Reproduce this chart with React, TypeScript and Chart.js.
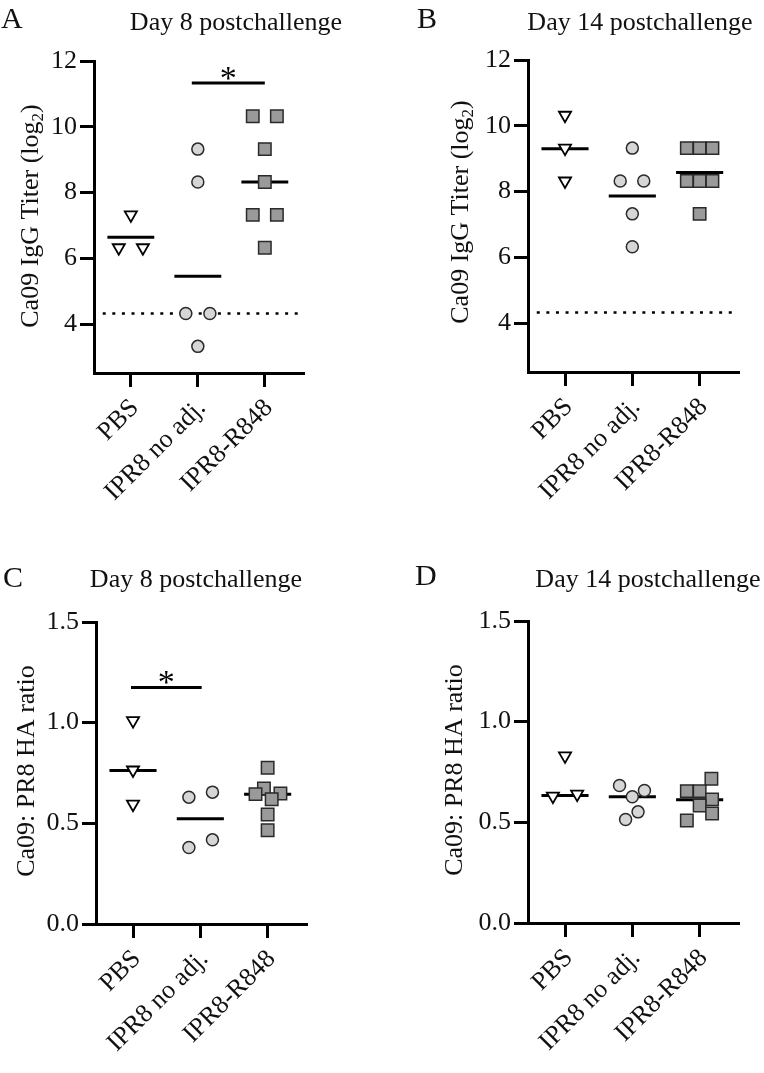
import React, { useEffect, useRef } from "react";
import { Chart, registerables } from "chart.js";

Chart.register(...registerables);

const FONT = "'Liberation Serif', 'Times New Roman', serif";

// ---------- shared ----------
const categories = ["PBS", "IPR8 no adj.", "IPR8-R848"];
const titerTicks = [4, 6, 8, 10, 12];
const ratioTicks = [0, 0.5, 1.0, 1.5];
const titerRange = [2.51, 12];
const ratioRange = [0, 1.5];
const xRange = [-0.55, 2.57];
const detectionLimit = 4.32;
const detectionSpan = [-0.42, 2.55];

// ---------- Panel A: Day 8, IgG titer ----------
const aPBS = [7.32, 6.32, 6.32];
const aNoAdj = [9.32, 8.32, 4.32, 4.32, 3.32];
const aR848 = [10.32, 10.32, 9.32, 8.32, 7.32, 7.32, 6.32];
const aMeans = [6.64, 5.45, 8.32];
const aSigSpan = [0.91, 2.0];
const aSigLevel = 11.33;
const aPBSJitter = [0, -0.18, 0.18];
const aNoAdjJitter = [0, 0, -0.18, 0.18, 0];
const aR848Jitter = [-0.18, 0.18, 0, 0, -0.18, 0.18, 0];

// ---------- Panel B: Day 14, IgG titer ----------
const bPBS = [10.32, 9.32, 8.32];
const bNoAdj = [9.32, 8.32, 8.32, 7.32, 6.32];
const bR848 = [9.32, 9.32, 9.32, 8.32, 8.32, 8.32, 7.32];
const bMeans = [9.3, 7.86, 8.58];
const bPBSJitter = [0, 0, 0];
const bNoAdjJitter = [0, -0.18, 0.17, 0, 0];
const bR848Jitter = [-0.19, 0, 0.19, -0.19, 0, 0.19, 0];

// ---------- Panel C: Day 8, HA ratio ----------
const cPBS = [1.01, 0.765, 0.595];
const cNoAdj = [0.63, 0.655, 0.38, 0.418];
const cR848 = [0.776, 0.673, 0.645, 0.648, 0.62, 0.544, 0.466];
const cMeans = [0.763, 0.523, 0.645];
const cSigSpan = [-0.03, 1.02];
const cSigLevel = 1.175;
const cPBSJitter = [0, 0, 0];
const cNoAdjJitter = [-0.17, 0.18, -0.17, 0.18];
const cR848Jitter = [0, -0.055, -0.18, 0.19, 0.06, 0, 0];

// ---------- Panel D: Day 14, HA ratio ----------
const dPBS = [0.83, 0.63, 0.64];
const dNoAdj = [0.683, 0.658, 0.627, 0.552, 0.514];
const dR848 = [0.716, 0.655, 0.655, 0.614, 0.584, 0.544, 0.509];
const dMeans = [0.633, 0.627, 0.612];
const dPBSJitter = [0, -0.18, 0.18];
const dNoAdjJitter = [-0.19, 0.18, 0, 0.085, -0.1];
const dR848Jitter = [0.175, -0.19, 0, 0.185, 0, 0.185, -0.19];

const Y_W = 70;
const X_H = 130;

type Spec = {
  letter: string;
  title: string;
  yLabel: string;
  ySub?: string;
  yTail?: string;
  yRange: number[];
  yTicks: number[];
  fmt: (v: number) => string;
  groups: number[][];
  jitters: number[][];
  means: number[];
  sigSpan?: number[];
  sigLevel?: number;
  detection?: number;
  pos: { x: number; y: number; w: number; h: number };
  area: { left: number; right: number; top: number; bottom: number };
  letterAt: number[];
  titleAt: number[];
  yLabelAt: number[];
};

const groupStyles = [
  { pointStyle: "triangle", rotation: 180, radius: 7, bg: "#ffffff", border: "#000000", bw: 1.8 },
  { pointStyle: "circle", rotation: 0, radius: 6, bg: "#d6d6d6", border: "#2a2a2a", bw: 1.5 },
  { pointStyle: "rect", rotation: 0, radius: 8.8, bg: "#9a9a9a", border: "#2a2a2a", bw: 1.5 },
];

function lineDs(span: number[], level: number, width: number) {
  return {
    data: [
      { x: span[0], y: level },
      { x: span[1], y: level },
    ],
    showLine: true,
    borderColor: "#000000",
    backgroundColor: "#000000",
    borderWidth: width,
    pointRadius: 0,
    order: 1,
    clip: false,
  } as any;
}

function makeTextPlugin(s: Spec) {
  return {
    id: "panelText" + s.letter,
    afterDraw(chart: any) {
      const ctx = chart.ctx as CanvasRenderingContext2D;
      ctx.save();
      ctx.fillStyle = "#111111";
      ctx.textBaseline = "alphabetic";
      // panel letter
      ctx.font = `30px ${FONT}`;
      ctx.textAlign = "left";
      ctx.fillText(s.letter, s.letterAt[0], s.letterAt[1]);
      // title
      ctx.font = `26px ${FONT}`;
      ctx.textAlign = "center";
      ctx.fillText(s.title, s.titleAt[0], s.titleAt[1]);
      // y label (rotated, with optional subscript)
      ctx.save();
      ctx.translate(s.yLabelAt[0], s.yLabelAt[1]);
      ctx.rotate(-Math.PI / 2);
      ctx.textAlign = "left";
      const mainFont = `26px ${FONT}`;
      const subFont = `17px ${FONT}`;
      ctx.font = mainFont;
      const w1 = ctx.measureText(s.yLabel).width;
      const w3 = s.yTail ? ctx.measureText(s.yTail).width : 0;
      ctx.font = subFont;
      const w2 = s.ySub ? ctx.measureText(s.ySub).width : 0;
      let x0 = -(w1 + w2 + w3) / 2;
      ctx.font = mainFont;
      ctx.fillText(s.yLabel, x0, 0);
      x0 += w1;
      if (s.ySub) {
        ctx.font = subFont;
        ctx.fillText(s.ySub, x0, 5);
        x0 += w2;
      }
      if (s.yTail) {
        ctx.font = mainFont;
        ctx.fillText(s.yTail, x0, 0);
      }
      ctx.restore();
      // significance star
      if (s.sigSpan && s.sigLevel != null) {
        const xs = chart.scales.x;
        const ys = chart.scales.y;
        const cx = xs.getPixelForValue((s.sigSpan[0] + s.sigSpan[1]) / 2);
        const cy = ys.getPixelForValue(s.sigLevel);
        ctx.font = `34px ${FONT}`;
        ctx.textAlign = "center";
        ctx.fillStyle = "#000000";
        ctx.fillText("*", cx, cy + 6);
      }
      ctx.restore();
    },
  };
}

function buildConfig(s: Spec): any {
  const datasets: any[] = [];
  s.groups.forEach((vals, gi) => {
    const st = groupStyles[gi];
    datasets.push({
      data: vals.map((v, i) => ({ x: gi + s.jitters[gi][i], y: v })),
      pointStyle: st.pointStyle,
      pointRotation: st.rotation,
      pointRadius: st.radius,
      pointBackgroundColor: st.bg,
      pointBorderColor: st.border,
      pointBorderWidth: st.bw,
      backgroundColor: st.bg,
      borderColor: st.border,
      showLine: false,
      order: 0,
      clip: false,
    });
  });
  s.means.forEach((m, gi) => datasets.push(lineDs([gi - 0.35, gi + 0.35], m, 3)));
  if (s.sigSpan && s.sigLevel != null) datasets.push(lineDs(s.sigSpan, s.sigLevel, 3));
  if (s.detection != null) {
    const d = lineDs(detectionSpan, s.detection, 2.5);
    d.borderDash = [3, 6.6];
    datasets.push(d);
  }
  const padding = {
    left: s.area.left - Y_W,
    right: s.pos.w - s.area.right,
    top: s.area.top,
    bottom: s.pos.h - s.area.bottom - X_H,
  };
  return {
    type: "scatter",
    data: { datasets },
    options: {
      responsive: false,
      animation: false,
      devicePixelRatio: 1,
      events: [],
      layout: { padding },
      plugins: { legend: { display: false }, tooltip: { enabled: false }, title: { display: false } },
      scales: {
        x: {
          type: "linear",
          min: xRange[0],
          max: xRange[1],
          afterBuildTicks: (scale: any) => {
            scale.ticks = categories.map((_, i) => ({ value: i }));
          },
          afterFit: (scale: any) => {
            scale.height = X_H;
          },
          ticks: {
            autoSkip: false,
            minRotation: 45,
            maxRotation: 45,
            padding: 6,
            labelOffset: 4,
            color: "#111111",
            font: { family: FONT, size: 26 },
            callback: (v: number) => categories[Math.round(v)] ?? "",
          },
          grid: {
            display: true,
            drawOnChartArea: false,
            drawTicks: true,
            tickLength: 14,
            tickWidth: 3,
            lineWidth: 3,
            tickColor: "#000000",
            color: "#000000",
          },
          border: { display: true, width: 3, color: "#000000" },
        },
        y: {
          type: "linear",
          min: s.yRange[0],
          max: s.yRange[1],
          afterBuildTicks: (scale: any) => {
            scale.ticks = s.yTicks.map((v) => ({ value: v }));
          },
          afterFit: (scale: any) => {
            scale.width = Y_W;
          },
          ticks: {
            autoSkip: false,
            padding: 3,
            color: "#111111",
            font: { family: FONT, size: 26 },
            callback: (v: number) => s.fmt(v),
          },
          grid: {
            display: true,
            drawOnChartArea: false,
            drawTicks: true,
            tickLength: 14,
            tickWidth: 3,
            lineWidth: 3,
            tickColor: "#000000",
            color: "#000000",
          },
          border: { display: true, width: 3, color: "#000000" },
        },
      },
    },
    plugins: [makeTextPlugin(s)],
  };
}

const titerFmt = (v: number) => String(Math.round(v));
const ratioFmt = (v: number) => v.toFixed(1);

const specs: Spec[] = [
  {
    letter: "A",
    title: "Day 8 postchallenge",
    yLabel: "Ca09 IgG Titer (log",
    ySub: "2",
    yTail: ")",
    yRange: titerRange,
    yTicks: titerTicks,
    fmt: titerFmt,
    groups: [aPBS, aNoAdj, aR848],
    jitters: [aPBSJitter, aNoAdjJitter, aR848Jitter],
    means: aMeans,
    sigSpan: aSigSpan,
    sigLevel: aSigLevel,
    detection: detectionLimit,
    pos: { x: 0, y: 0, w: 382, h: 530 },
    area: { left: 94, right: 303, top: 61, bottom: 373 },
    letterAt: [1, 28],
    titleAt: [236, 30],
    yLabelAt: [38, 216],
  },
  {
    letter: "B",
    title: "Day 14 postchallenge",
    yLabel: "Ca09 IgG Titer (log",
    ySub: "2",
    yTail: ")",
    yRange: titerRange,
    yTicks: titerTicks,
    fmt: titerFmt,
    groups: [bPBS, bNoAdj, bR848],
    jitters: [bPBSJitter, bNoAdjJitter, bR848Jitter],
    means: bMeans,
    detection: detectionLimit,
    pos: { x: 382, y: 0, w: 382, h: 530 },
    area: { left: 146, right: 356, top: 60, bottom: 372 },
    letterAt: [35, 28],
    titleAt: [258, 30],
    yLabelAt: [86, 212],
  },
  {
    letter: "C",
    title: "Day 8 postchallenge",
    yLabel: "Ca09: PR8 HA ratio",
    yRange: ratioRange,
    yTicks: ratioTicks,
    fmt: ratioFmt,
    groups: [cPBS, cNoAdj, cR848],
    jitters: [cPBSJitter, cNoAdjJitter, cR848Jitter],
    means: cMeans,
    sigSpan: cSigSpan,
    sigLevel: cSigLevel,
    pos: { x: 0, y: 530, w: 382, h: 543 },
    area: { left: 96, right: 306, top: 92, bottom: 394 },
    letterAt: [3, 57],
    titleAt: [196, 57],
    yLabelAt: [34, 241],
  },
  {
    letter: "D",
    title: "Day 14 postchallenge",
    yLabel: "Ca09: PR8 HA ratio",
    yRange: ratioRange,
    yTicks: ratioTicks,
    fmt: ratioFmt,
    groups: [dPBS, dNoAdj, dR848],
    jitters: [dPBSJitter, dNoAdjJitter, dR848Jitter],
    means: dMeans,
    pos: { x: 382, y: 530, w: 382, h: 543 },
    area: { left: 146, right: 356, top: 91, bottom: 393 },
    letterAt: [33, 55],
    titleAt: [266, 57],
    yLabelAt: [80, 240],
  },
];

function Panel({ spec }: { spec: Spec }) {
  const ref = useRef<HTMLCanvasElement>(null);
  useEffect(() => {
    if (!ref.current) return;
    const chart = new Chart(ref.current, buildConfig(spec));
    return () => chart.destroy();
  }, [spec]);
  return (
    <canvas
      ref={ref}
      width={spec.pos.w}
      height={spec.pos.h}
      style={{
        position: "absolute",
        left: spec.pos.x,
        top: spec.pos.y,
        width: spec.pos.w,
        height: spec.pos.h,
      }}
    />
  );
}

export default function App() {
  return (
    <div
      style={{
        position: "absolute",
        left: 0,
        top: 0,
        width: 764,
        height: 1073,
        background: "#ffffff",
      }}
    >
      {specs.map((s) => (
        <Panel key={s.letter} spec={s} />
      ))}
    </div>
  );
}
